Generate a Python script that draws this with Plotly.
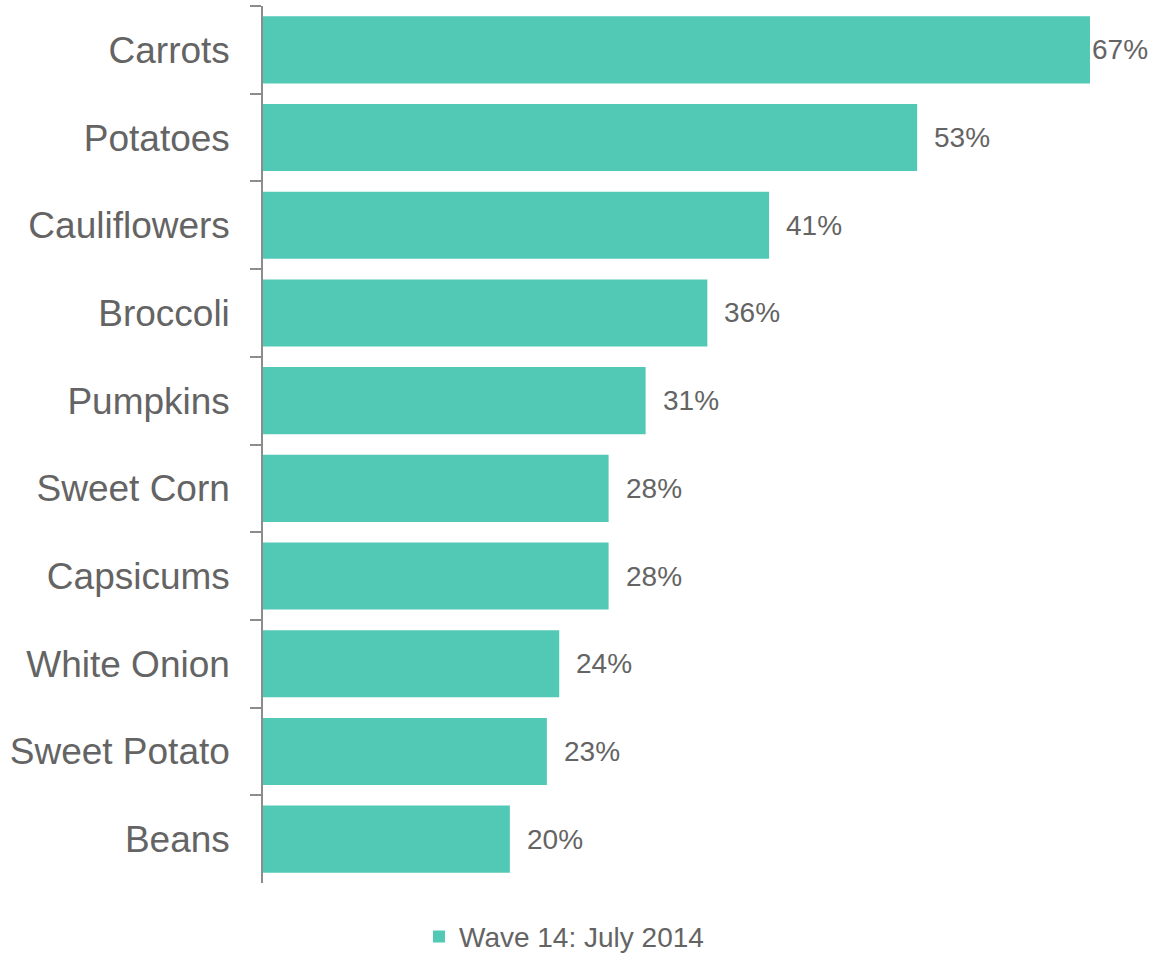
import plotly.graph_objects as go

# Vegetables purchased, Wave 14: July 2014 (share of respondents, %)
vegetables = ["Carrots", "Potatoes", "Cauliflowers", "Broccoli", "Pumpkins",
              "Sweet Corn", "Capsicums", "White Onion", "Sweet Potato", "Beans"]
shares = [67, 53, 41, 36, 31, 28, 28, 24, 23, 20]
series_name = "Wave 14: July 2014"

BAR_COLOR = "#52C9B4"
TEXT_COLOR = "#646464"
AXIS_COLOR = "#8C8C8C"
FONT = "Liberation Sans"

fig = go.Figure()
fig.add_trace(go.Bar(
    x=shares,
    y=vegetables,
    orientation="h",
    name=series_name,
    marker=dict(color=BAR_COLOR, line=dict(width=0)),
    hoverinfo="x+y",
))

# Percentage labels to the right of each bar
top = max(shares)
for v, s in zip(vegetables, shares):
    fig.add_annotation(
        x=s, y=v, xref="x", yref="y",
        text=f"{s}%", showarrow=False,
        xanchor="left", yanchor="middle",
        xshift=0 if s == top else 15,
        font=dict(family=FONT, size=28, color=TEXT_COLOR),
    )

fig.update_layout(
    width=1151, height=953,
    margin=dict(l=263, r=24, t=6, b=70),
    paper_bgcolor="white", plot_bgcolor="white",
    bargap=0.235,
    font=dict(family=FONT, color=TEXT_COLOR),
    showlegend=True,
    legend=dict(
        orientation="h",
        xref="container", yref="container",
        x=0.49, xanchor="center",
        y=0.017, yanchor="middle",
        font=dict(family=FONT, size=28, color=TEXT_COLOR),
        itemwidth=30,
    ),
    xaxis=dict(range=[0, 70], visible=False, fixedrange=True),
    yaxis=dict(
        autorange="reversed",
        showline=True, linecolor=AXIS_COLOR, linewidth=1.5,
        ticks="outside", tickson="boundaries", ticklen=11,
        tickcolor=AXIS_COLOR, tickwidth=1.5,
        ticklabelstandoff=24,
        tickfont=dict(family=FONT, size=37, color=TEXT_COLOR),
        showgrid=False, zeroline=False,
    ),
)

fig.write_html("out.html")
